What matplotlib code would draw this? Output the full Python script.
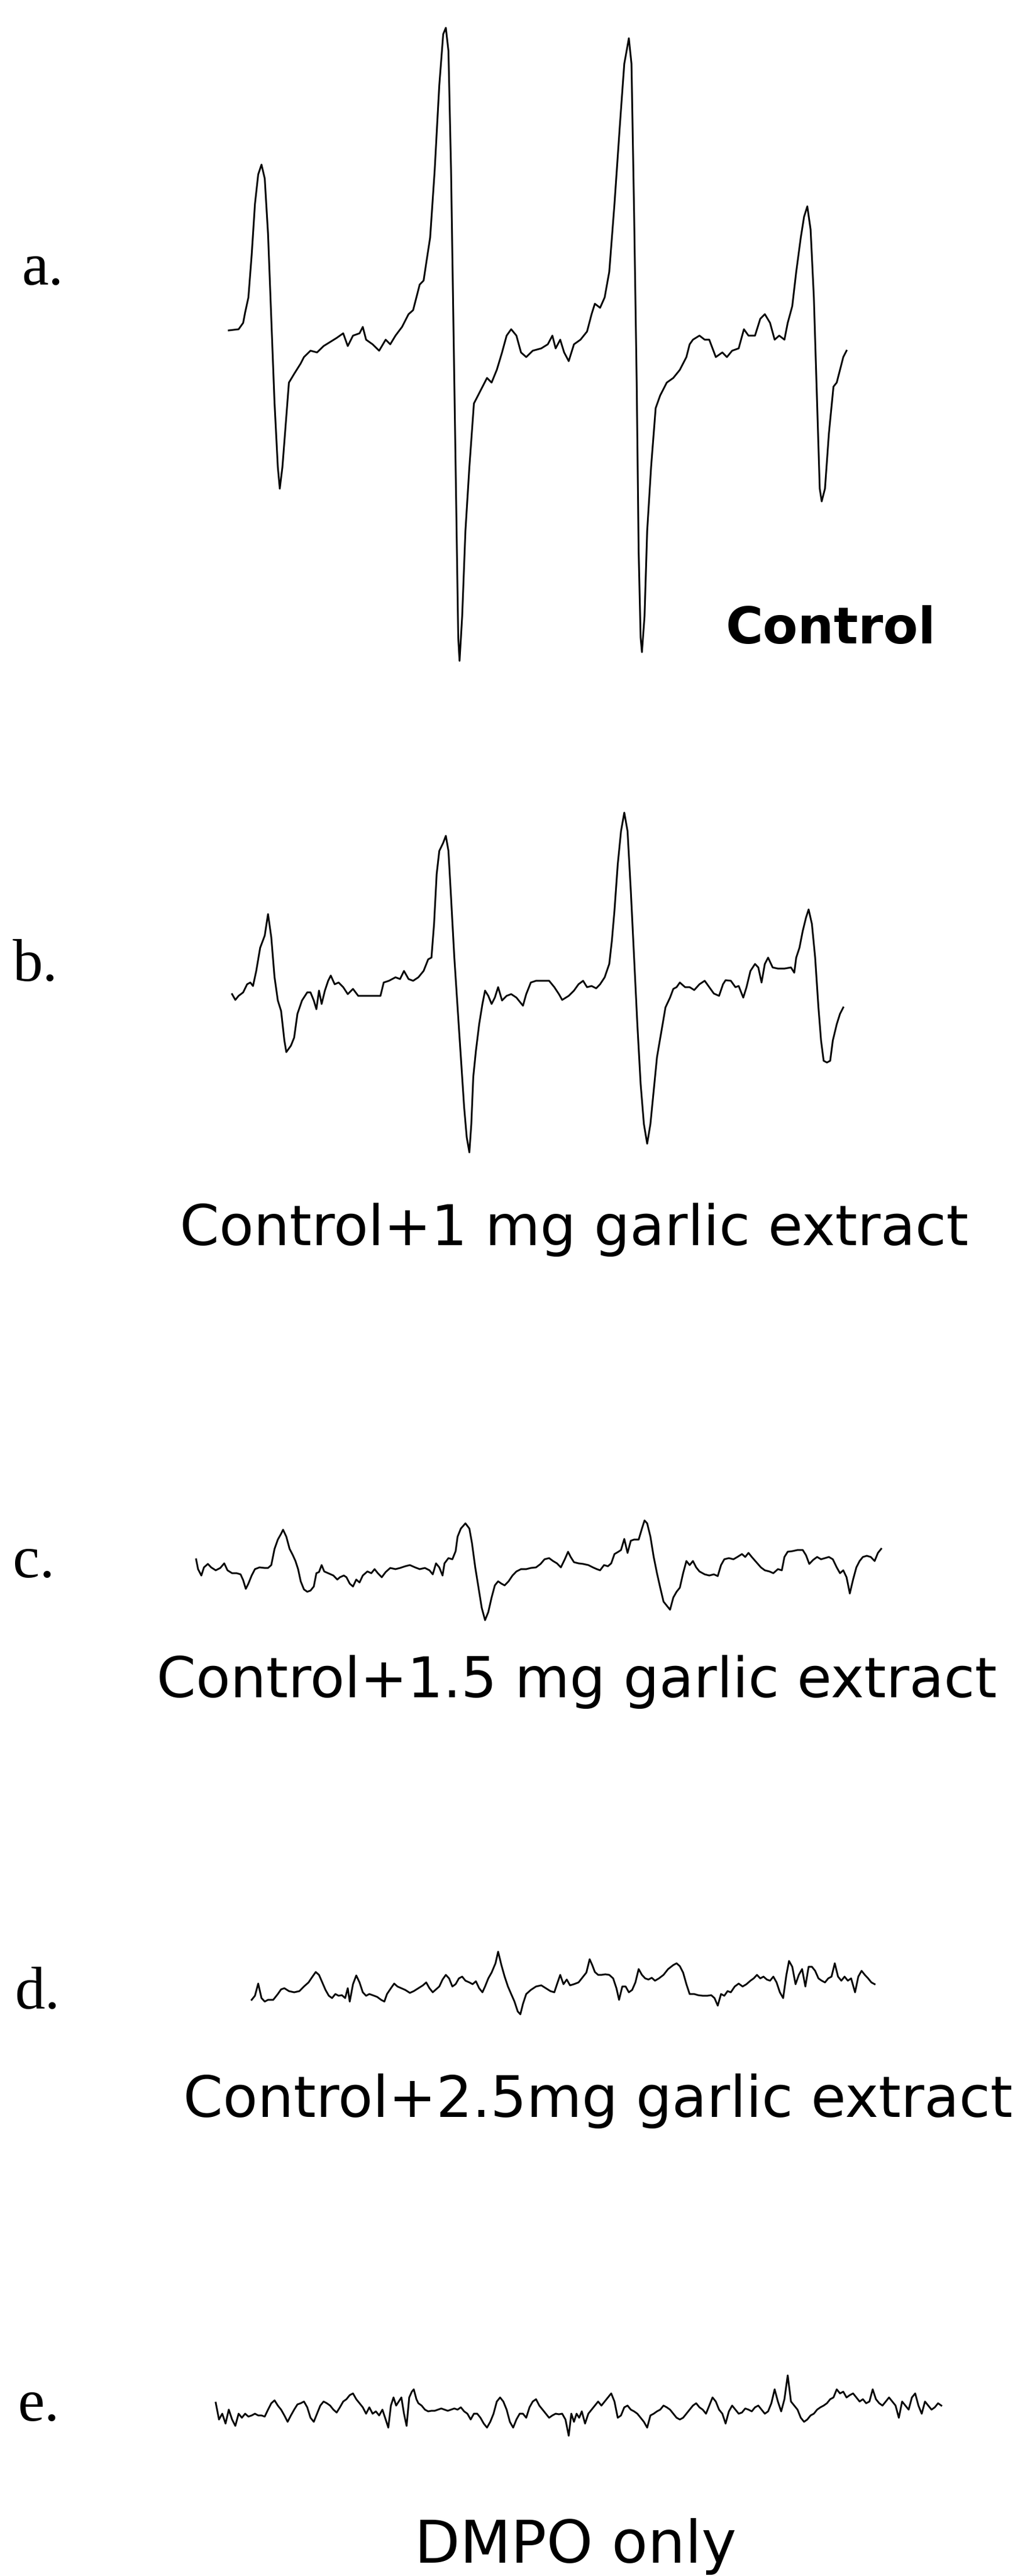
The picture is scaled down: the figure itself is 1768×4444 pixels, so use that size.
"""
EPR spectra (DMPO spin adducts) with increasing garlic extract.
Five stacked traces a-e drawn on a shared field / intensity scale.
"""

import matplotlib
matplotlib.use("Agg")
import matplotlib.pyplot as plt

W_PX, H_PX, DPI = 1768, 4444, 100
FIELD_RANGE = (0, 1568)  # arbitrary field units across the page width

trace_a = [
    (350, 30), (365, 32), (372, 43), (375, 61), (380, 87), (385, 160), (390, 248),
    (395, 299), (400, 316), (405, 292), (410, 197), (415, 50), (420, -96), (425, -206),
    (428, -243), (432, -206), (437, -133), (442, -60), (450, -45), (460, -27), (465, -16),
    (475, -5), (485, -8), (495, 3), (505, 10), (515, 17), (525, 25), (532, 3), (540, 21),
    (550, 25), (555, 36), (560, 14), (570, 6), (580, -5), (590, 14), (597, 6), (605, 21),
    (615, 36), (625, 58), (632, 65), (637, 87), (642, 109), (648, 116), (652, 146),
    (658, 190), (665, 307), (672, 453), (678, 541), (682, 552), (686, 512), (690, 307),
    (694, 14), (698, -280), (701, -500), (703, -540), (707, -463), (712, -316), (718, -206),
    (725, -96), (735, -74), (745, -52), (752, -60), (760, -38), (768, -8), (775, 21),
    (782, 32), (790, 21), (797, -8), (805, -16), (815, -5), (828, -1), (838, 6), (845, 21),
    (850, -1), (857, 14), (863, -8), (870, -23), (878, 6), (888, 14), (898, 28), (905, 58),
    (910, 76), (918, 69), (925, 87), (932, 131), (940, 248), (948, 380), (955, 490),
    (962, 534), (966, 490), (970, 233), (974, -60), (977, -353), (980, -500), (982, -525),
    (986, -463), (990, -316), (996, -206), (1003, -104), (1010, -82), (1020, -60),
    (1030, -52), (1040, -38), (1050, -16), (1055, 6), (1060, 14), (1070, 21), (1078, 14),
    (1085, 14), (1095, -16), (1105, -8), (1112, -16), (1120, -5), (1130, -1), (1138, 32),
    (1145, 21), (1155, 21), (1163, 50), (1170, 58), (1178, 43), (1185, 14), (1192, 21),
    (1200, 14), (1205, 43), (1212, 72), (1218, 131), (1225, 190), (1230, 226), (1235, 244),
    (1240, 204), (1245, 87), (1250, -96), (1254, -243), (1257, -265), (1262, -243),
    (1268, -148), (1275, -67), (1280, -60), (1285, -38), (1290, -16), (1295, -5),
]

trace_b = [
    (355, -5), (360, -15), (365, -8), (372, -2), (378, 12), (383, 15), (387, 9), (392, 35),
    (398, 75), (405, 96), (410, 133), (415, 93), (420, 24), (425, -16), (430, -34),
    (435, -85), (438, -105), (445, -94), (450, -80), (455, -39), (462, -16), (470, -2),
    (475, -2), (480, -16), (484, -31), (488, 1), (492, -22), (497, 1), (502, 18), (506, 27),
    (512, 12), (518, 15), (525, 7), (532, -5), (540, 4), (548, -8), (560, -8), (575, -8),
    (582, -8), (587, 15), (595, 18), (605, 24), (612, 21), (618, 35), (625, 21), (632, 18),
    (640, 24), (648, 35), (655, 55), (660, 58), (664, 116), (668, 202), (672, 242),
    (678, 256), (682, 268), (686, 242), (690, 162), (695, 58), (700, -28), (705, -114),
    (710, -200), (714, -252), (718, -278), (721, -229), (724, -148), (728, -103), (733, -57),
    (738, -22), (742, 1), (747, -8), (752, -22), (757, -11), (762, 7), (768, -16), (775, -8),
    (782, -5), (790, -11), (800, -25), (805, -5), (812, 15), (820, 18), (830, 18), (840, 18),
    (848, 7), (855, -5), (860, -15), (870, -8), (878, 1), (885, 12), (892, 18), (898, 7),
    (905, 9), (912, 5), (918, 12), (925, 24), (932, 47), (936, 87), (940, 139), (945, 219),
    (950, 276), (955, 308), (960, 276), (965, 173), (970, 58), (975, -57), (980, -160),
    (985, -229), (990, -263), (995, -229), (1000, -171), (1005, -114), (1012, -68),
    (1018, -28), (1025, -11), (1030, 4), (1035, 7), (1040, 15), (1048, 7), (1055, 7),
    (1062, 2), (1070, 12), (1078, 18), (1085, 7), (1092, -4), (1100, -8), (1106, 12),
    (1110, 19), (1118, 18), (1125, 7), (1130, 9), (1137, -11), (1142, 7), (1148, 35),
    (1155, 47), (1160, 41), (1165, 15), (1170, 47), (1175, 58), (1182, 41), (1190, 39),
    (1200, 39), (1210, 41), (1215, 32), (1218, 58), (1223, 75), (1228, 104), (1233, 127),
    (1237, 141), (1242, 116), (1247, 58), (1252, -28), (1256, -85), (1260, -120),
    (1265, -123), (1270, -120), (1274, -85), (1280, -57), (1285, -39), (1290, -28),
]

trace_c = [
    (300, 7), (303, -10), (308, -21), (312, -7), (318, -1), (323, -7), (330, -12), (337, -8),
    (343, 0), (348, -12), (355, -17), (362, -17), (368, -19), (372, -29), (376, -44),
    (380, -35), (385, -21), (390, -10), (397, -7), (405, -8), (410, -8), (415, -3), (420, 25),
    (425, 41), (430, 51), (433, 58), (438, 46), (443, 25), (448, 14), (452, 4), (456, -10),
    (460, -31), (465, -45), (470, -49), (475, -47), (480, -40), (484, -17), (488, -15),
    (492, -3), (496, -14), (502, -17), (510, -21), (516, -28), (520, -24), (526, -21),
    (530, -24), (535, -35), (540, -40), (545, -28), (550, -33), (555, -21), (562, -14),
    (568, -17), (573, -10), (578, -17), (584, -24), (590, -15), (597, -8), (605, -10),
    (612, -8), (620, -5), (627, -3), (635, -7), (642, -10), (650, -8), (657, -12), (662, -19),
    (667, 0), (672, -7), (677, -21), (680, 0), (686, 9), (692, 7), (697, 21), (700, 46),
    (705, 60), (712, 69), (718, 60), (722, 35), (727, -7), (732, -42), (737, -77), (742, -98),
    (747, -84), (752, -59), (757, -38), (762, -31), (767, -35), (772, -38), (778, -31),
    (784, -21), (790, -14), (797, -10), (805, -10), (812, -8), (820, -7), (827, -1), (833, 7),
    (840, 9), (846, 4), (852, 0), (858, -7), (864, 7), (869, 20), (873, 11), (878, 2),
    (885, 0), (892, -1), (900, -3), (907, -7), (913, -10), (918, -12), (924, -3), (930, -5),
    (935, 0), (940, 16), (946, 20), (950, 23), (955, 42), (960, 18), (965, 39), (970, 41),
    (977, 41), (982, 60), (986, 74), (990, 69), (995, 46), (1000, 11), (1005, -17),
    (1010, -42), (1015, -66), (1020, -73), (1025, -80), (1030, -59), (1035, -49), (1040, -42),
    (1045, -17), (1050, 4), (1055, -3), (1060, 4), (1065, -7), (1070, -14), (1078, -19),
    (1085, -21), (1092, -19), (1098, -22), (1103, -3), (1108, 7), (1115, 9), (1122, 7),
    (1128, 11), (1135, 16), (1140, 11), (1145, 18), (1150, 11), (1157, 2), (1164, -7),
    (1170, -12), (1177, -14), (1183, -17), (1190, -10), (1196, -12), (1200, 11), (1205, 20),
    (1212, 21), (1220, 23), (1228, 23), (1233, 14), (1238, -1), (1244, 6), (1250, 11),
    (1256, 7), (1262, 9), (1268, 11), (1274, 7), (1280, -7), (1285, -17), (1290, -12),
    (1295, -24), (1300, -52), (1305, -28), (1310, -7), (1315, 4), (1320, 11), (1326, 13),
    (1332, 11), (1338, 4), (1343, 18), (1348, 25),
]

trace_d = [
    (385, -20), (390, -13), (395, 8), (400, -17), (405, -23), (410, -20), (418, -20),
    (425, -10), (430, -2), (435, 0), (442, -5), (450, -7), (458, -5), (465, 3), (472, 10),
    (478, 20), (483, 28), (488, 23), (493, 10), (498, -3), (503, -13), (508, -17), (513, -10),
    (518, -13), (523, -12), (528, -17), (532, 0), (535, -23), (540, 7), (545, 22), (550, 10),
    (555, -7), (560, -13), (565, -10), (570, -12), (577, -15), (583, -20), (588, -23),
    (592, -10), (598, 0), (603, 8), (608, 3), (614, 0), (620, -3), (627, -8), (633, -5),
    (640, 0), (647, 5), (652, 10), (657, 0), (662, -7), (667, -2), (672, 3), (677, 15),
    (682, 23), (687, 17), (692, 3), (697, 7), (702, 17), (707, 20), (712, 13), (718, 10),
    (723, 7), (728, 12), (733, 0), (738, -7), (742, 3), (747, 17), (752, 27), (758, 43),
    (762, 63), (767, 40), (772, 20), (777, 3), (782, -10), (787, -23), (792, -40), (796, -45),
    (800, -27), (805, -10), (812, -3), (820, 3), (828, 5), (835, 0), (842, -5), (848, -7),
    (853, 10), (857, 23), (862, 7), (867, 15), (872, 5), (878, 7), (885, 10), (892, 20),
    (897, 27), (902, 50), (906, 40), (910, 28), (915, 23), (920, 23), (926, 24), (932, 23),
    (938, 17), (943, 0), (947, -20), (952, 3), (957, 3), (962, -7), (967, -3), (972, 10),
    (977, 33), (982, 23), (987, 17), (992, 15), (997, 18), (1002, 13), (1008, 17),
    (1015, 23), (1022, 33), (1030, 40), (1035, 43), (1040, 38), (1045, 27), (1050, 7),
    (1055, -10), (1062, -10), (1068, -12), (1075, -13), (1082, -13), (1088, -12),
    (1093, -17), (1098, -30), (1103, -10), (1108, -13), (1113, -5), (1118, -7), (1124, 3),
    (1130, 8), (1136, 3), (1142, 7), (1148, 13), (1153, 17), (1158, 23), (1163, 17),
    (1168, 20), (1173, 15), (1178, 13), (1183, 20), (1188, 10), (1193, -7), (1198, -17),
    (1203, 23), (1207, 47), (1212, 37), (1217, 7), (1222, 23), (1227, 33), (1232, 3),
    (1237, 37), (1242, 37), (1247, 30), (1252, 17), (1257, 13), (1262, 10), (1267, 17),
    (1272, 20), (1277, 43), (1282, 20), (1287, 13), (1292, 20), (1297, 13), (1302, 17),
    (1308, -7), (1313, 20), (1318, 30), (1323, 23), (1328, 17), (1333, 10), (1338, 7),
]

trace_e = [
    (330, 12), (335, -17), (340, -7), (345, -24), (350, 0), (355, -17), (360, -28),
    (365, -7), (370, -14), (375, -7), (380, -12), (385, -10), (390, -7), (395, -10),
    (400, -10), (405, -12), (410, 0), (415, 11), (420, 16), (425, 7), (430, 0), (435, -10),
    (440, -21), (445, -10), (450, 0), (455, 9), (460, 11), (465, 14), (470, 4), (475, -14),
    (480, -21), (485, -7), (490, 7), (495, 14), (500, 11), (505, 7), (510, 0), (515, -5),
    (520, 4), (525, 14), (530, 18), (535, 25), (540, 28), (545, 18), (550, 11), (555, 4),
    (560, -7), (565, 4), (570, -7), (575, -3), (580, -10), (585, 0), (590, -17), (594, -31),
    (598, 7), (602, 21), (606, 7), (610, 14), (614, 21), (618, -7), (622, -28), (626, 21),
    (630, 31), (633, 35), (637, 18), (640, 11), (645, 7), (650, 0), (655, -3), (660, -2),
    (665, -2), (670, 0), (675, 2), (680, 0), (685, -2), (690, 0), (695, 2), (700, 0),
    (705, 4), (710, -3), (715, -7), (720, -17), (725, -7), (730, -7), (735, -14), (740, -24),
    (745, -31), (750, -21), (755, -7), (760, 14), (765, 21), (770, 14), (775, 0), (780, -21),
    (785, -31), (790, -17), (795, -7), (800, -7), (805, -14), (810, 4), (815, 14), (820, 18),
    (825, 7), (830, 0), (835, -7), (840, -14), (845, -10), (850, -7), (855, -8), (860, -7),
    (865, -17), (870, -45), (874, -7), (878, -21), (882, -7), (886, -14), (890, -3),
    (895, -24), (900, -7), (905, 0), (910, 7), (915, 14), (920, 7), (925, 14), (930, 21),
    (935, 28), (940, 14), (945, -14), (950, -10), (955, 4), (960, 7), (965, 0), (970, -3),
    (975, -7), (980, -14), (985, -21), (990, -31), (995, -10), (1000, -7), (1005, -3),
    (1010, 0), (1015, 7), (1020, 4), (1025, 0), (1030, -7), (1035, -14), (1040, -17),
    (1045, -14), (1050, -7), (1055, 0), (1060, 7), (1065, 11), (1070, 4), (1075, 0),
    (1080, -7), (1085, 7), (1090, 21), (1095, 14), (1100, 0), (1105, -7), (1110, -24),
    (1115, -3), (1120, 7), (1125, 0), (1130, -7), (1135, -5), (1140, 2), (1145, 0),
    (1150, -3), (1155, 4), (1160, 7), (1165, 0), (1170, -7), (1175, -3), (1180, 11),
    (1185, 35), (1190, 14), (1195, -3), (1200, 18), (1205, 59), (1210, 14), (1215, 7),
    (1220, 0), (1225, -14), (1230, -21), (1235, -17), (1240, -10), (1245, -7), (1250, 0),
    (1255, 4), (1260, 7), (1265, 11), (1270, 18), (1275, 21), (1280, 35), (1285, 28),
    (1290, 31), (1295, 21), (1300, 25), (1305, 28), (1310, 21), (1315, 14), (1320, 18),
    (1325, 11), (1330, 14), (1335, 35), (1340, 18), (1345, 11), (1350, 7), (1355, 14),
    (1360, 21), (1365, 14), (1370, 7), (1375, -14), (1380, 14), (1385, 7), (1390, 0),
    (1395, 21), (1400, 28), (1405, 7), (1410, -7), (1415, 14), (1420, 7), (1425, 0),
    (1430, 4), (1435, 11), (1440, 7),
]

panel_letters = ["a.", "b.", "c.", "d.", "e."]
panel_titles = [
    "Control",
    "Control+1 mg garlic extract",
    "Control+1.5 mg garlic extract",
    "Control+2.5mg garlic extract",
    "DMPO only",
]

# layout (page pixels): baseline of each trace, letter and caption anchors
trace_base_y = [600, 1710, 2697, 3430, 4157]
letter_xy = [(37, 491), (22, 1692), (22, 2721), (25, 3465), (31, 4176)]
# caption: left edge, right edge, baseline
title_box = [(1252, 1615, 1110), (310, 1670, 2148), (270, 1720, 2928),
             (316, 1748, 3652), (715, 1270, 4421)]
title_weight = ["bold", "normal", "normal", "normal", "normal"]

PANEL_H = 1200  # px height of each trace axes; y units == px

fig = plt.figure(figsize=(W_PX / DPI, H_PX / DPI), dpi=DPI)
fig.patch.set_facecolor("white")

traces = [trace_a, trace_b, trace_c, trace_d, trace_e]
for trace, base in zip(traces, trace_base_y):
    bottom = (H_PX - base - PANEL_H / 2) / H_PX
    ax = fig.add_axes([0, bottom, 1, PANEL_H / H_PX])
    ax.patch.set_alpha(0)
    field, inten = zip(*trace)
    ax.plot(field, inten, color="black", linewidth=2.2, solid_joinstyle="round")
    ax.set_xlim(*FIELD_RANGE)
    ax.set_ylim(-PANEL_H / 2, PANEL_H / 2)
    ax.axis("off")

for lab, (x, y) in zip(panel_letters, letter_xy):
    fig.text(x / W_PX, 1 - y / H_PX, lab, family="Liberation Serif",
             fontsize=75, va="baseline", ha="left")

# captions: fit font size so each spans the same width as in the original
captions = []
for txt, (x0, x1, yb), wt in zip(panel_titles, title_box, title_weight):
    t = fig.text(x0 / W_PX, 1 - yb / H_PX, txt, family="DejaVu Sans",
                 fontsize=72, fontweight=wt, va="baseline", ha="left")
    captions.append(t)

renderer = fig.canvas.get_renderer()
for _ in range(2):
    for t, (x0, x1, yb) in zip(captions, title_box):
        bb = t.get_window_extent(renderer)
        t.set_fontsize(t.get_fontsize() * (x1 - x0) / bb.width)
        bb = t.get_window_extent(renderer)
        ax_x = t.get_position()[0] * W_PX + (x0 - bb.x0)
        t.set_x(ax_x / W_PX)

fig.savefig("out.png", dpi=DPI)
